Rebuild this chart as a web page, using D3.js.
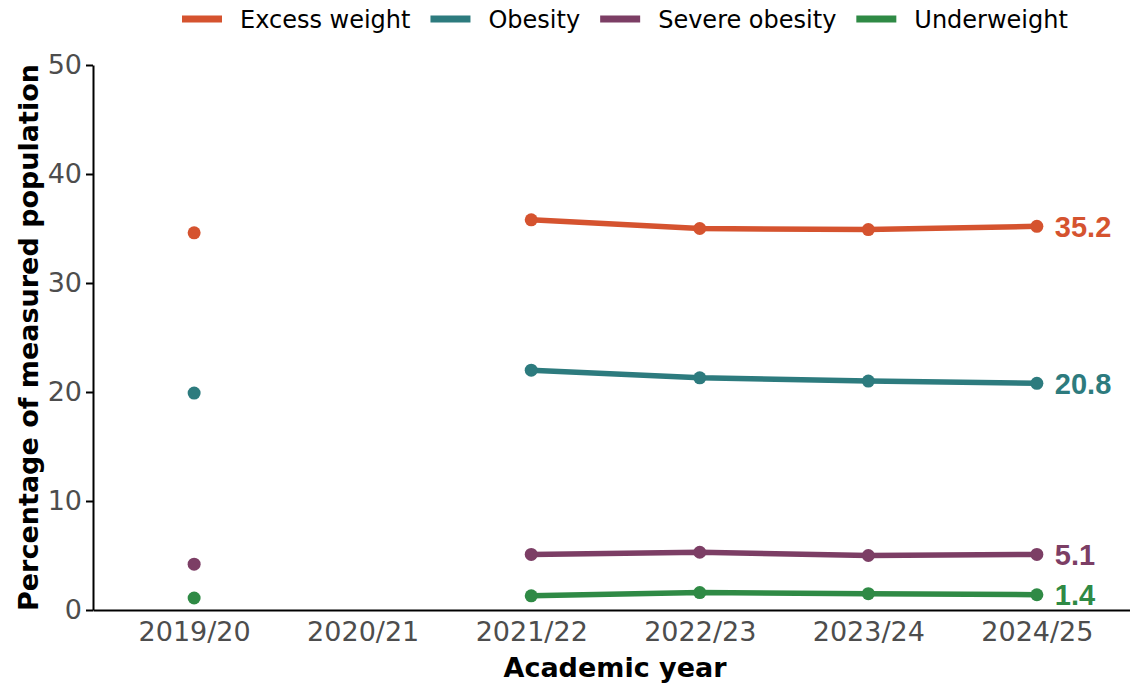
<!DOCTYPE html>
<html>
<head>
<meta charset="utf-8">
<script src="https://cdn.jsdelivr.net/npm/d3@7"></script>
<style>
  body { margin: 0; background: #fff; }
  svg { display: block; font-family: "DejaVu Sans", Verdana, sans-serif; }
</style>
</head>
<body>
<div id="chart"></div>
<script>
// Academic years (x categories)
const years = ['2019/20', '2020/21', '2021/22', '2022/23', '2023/24', '2024/25'];

// Series values, null = not measured
const excessWeight = [34.6, null, 35.8, 35.0, 34.9, 35.2];
const obesity = [19.9, null, 22.0, 21.3, 21.0, 20.8];
const severeObesity = [4.2, null, 5.1, 5.3, 5.0, 5.1];
const underweight = [1.1, null, 1.3, 1.6, 1.5, 1.4];

const seriesNames = ['Excess weight', 'Obesity', 'Severe obesity', 'Underweight'];
const seriesColors = ['#d5532f', '#2d7b7e', '#7c3e65', '#2f8a45'];
const yTicks = [0, 10, 20, 30, 40, 50];

const series = [excessWeight, obesity, severeObesity, underweight].map((vals, i) => ({
  name: seriesNames[i],
  color: seriesColors[i],
  values: years.map((yr, j) => ({ year: yr, value: vals[j] }))
}));

const W = 1130, H = 686;
const margin = { top: 65, right: -8, bottom: 76, left: 93 };

const svg = d3.select('#chart').append('svg')
  .attr('width', W)
  .attr('height', H);

const x = d3.scalePoint()
  .domain(years)
  .range([margin.left, W - margin.right])
  .padding(0.6);

const y = d3.scaleLinear()
  .domain([0, 50])
  .range([H - margin.bottom, margin.top]);

// y axis
const yAxis = svg.append('g')
  .attr('transform', 'translate(' + margin.left + ',0)')
  .call(d3.axisLeft(y).tickValues(yTicks).tickSize(7).tickSizeOuter(0).tickPadding(4));
yAxis.select('.domain').attr('stroke', '#000').attr('stroke-width', 2);
yAxis.selectAll('.tick line').attr('stroke', '#000').attr('stroke-width', 2);
yAxis.selectAll('.tick text')
  .attr('fill', '#4d4d4d')
  .style('font-size', '27px')
  .style('font-family', '"DejaVu Sans", Verdana, sans-serif');

// x axis, no tick marks
const xAxis = svg.append('g')
  .attr('transform', 'translate(0,' + y(0) + ')')
  .call(d3.axisBottom(x).tickSize(0).tickSizeOuter(0).tickPadding(12));
xAxis.select('.domain').attr('stroke', '#000').attr('stroke-width', 2);
xAxis.selectAll('.tick text')
  .attr('fill', '#4d4d4d')
  .style('font-size', '27px')
  .style('font-family', '"DejaVu Sans", Verdana, sans-serif');

// axis titles
svg.append('text')
  .attr('x', 615)
  .attr('y', 677)
  .attr('text-anchor', 'middle')
  .style('font-size', '27px')
  .style('font-weight', 'bold')
  .text('Academic year');

svg.append('text')
  .attr('transform', 'translate(38,' + y(25) + ') rotate(-90)')
  .attr('text-anchor', 'middle')
  .style('font-size', '27px')
  .style('font-weight', 'bold')
  .text('Percentage of measured population');

// lines and points
const line = d3.line()
  .defined(d => d.value !== null)
  .x(d => x(d.year))
  .y(d => y(d.value));

const grp = svg.selectAll('.series')
  .data(series)
  .enter()
  .append('g')
  .attr('class', 'series');

grp.append('path')
  .attr('d', d => line(d.values.filter((v, i) => i >= 2)))
  .attr('fill', 'none')
  .attr('stroke', d => d.color)
  .attr('stroke-width', 5.5);

grp.selectAll('circle')
  .data(d => d.values.filter(v => v.value !== null).map(v => ({ ...v, color: d.color })))
  .enter()
  .append('circle')
  .attr('cx', d => x(d.year))
  .attr('cy', d => y(d.value))
  .attr('r', 6.5)
  .attr('fill', d => d.color);

// end labels
grp.append('text')
  .attr('x', x(years[years.length - 1]) + 18)
  .attr('y', d => y(d.values[d.values.length - 1].value))
  .attr('dy', '0.36em')
  .attr('fill', d => d.color)
  .style('font-family', '"Liberation Sans", Arial, sans-serif')
  .style('font-weight', 'bold')
  .style('font-size', '29px')
  .text(d => d.values[d.values.length - 1].value.toFixed(1));

// legend
const legend = svg.append('g').attr('transform', 'translate(182,19)');
let lx = 0;
series.forEach(s => {
  const item = legend.append('g').attr('transform', 'translate(' + lx + ',0)');
  item.append('line')
    .attr('x1', 0).attr('x2', 40)
    .attr('y1', 0).attr('y2', 0)
    .attr('stroke', s.color)
    .attr('stroke-width', 7);
  const t = item.append('text')
    .attr('x', 58)
    .attr('dy', '0.36em')
    .style('font-size', '24px')
    .attr('fill', '#000')
    .text(s.name);
  lx += 58 + t.node().getComputedTextLength() + 20;
});
</script>
</body>
</html>
